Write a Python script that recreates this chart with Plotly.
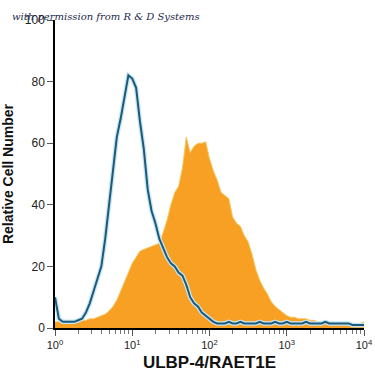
import plotly.graph_objects as go

# bin centres (log10 of fluorescence), 0.05-decade steps
log_bins = [round(i * 0.05, 2) for i in range(81)]

isotype = [10, 3, 2, 2, 2, 2, 2.5, 3, 5, 8,
           12, 16, 20, 29, 40, 52, 62, 68, 75, 82,
           81, 78, 67, 58, 45, 38, 34, 29, 26, 23,
           21, 20, 18, 17, 14, 10, 8, 7, 5, 4,
           3, 2, 1.5, 1.5, 1.5, 2, 1.5, 1.5, 2, 1.5,
           1.5, 1.5, 1.5, 2, 1.5, 1.5, 1.5, 2, 1.5, 1.5,
           2, 1.5, 1.5, 1.5, 1.5, 2, 1.5, 1.5, 1.5, 1.5,
           2, 1.5, 1.5, 1.5, 1.5, 1.5, 1.5, 1, 1, 1, 1]

ulbp4 = [2, 2, 2, 2, 2, 2, 2, 2.5, 2.5, 3,
         3, 3.5, 4, 4.5, 5.5, 7, 9, 12, 15, 18,
         21, 23, 25, 25.5, 26, 26.5, 27, 27.5, 31, 35,
         40, 44, 46, 52, 62, 57, 59, 60, 60, 60.5,
         55, 51, 48, 44, 43, 42, 36, 34, 33, 30,
         28, 24, 19, 15.5, 13, 11, 8.5, 7, 6, 5,
         4, 3.5, 3.5, 3, 3, 3, 2.5, 2.5, 2, 2,
         2, 1.5, 1.5, 1.5, 1.5, 1.5, 1.5, 1.5, 1.5, 1.5, 2]

x_vals = [10 ** v for v in log_bins]

x_tickvals = [1, 10, 100, 1000, 10000]
x_ticktext = ["10<sup>0</sup>", "10<sup>1</sup>", "10<sup>2</sup>", "10<sup>3</sup>", "10<sup>4</sup>"]
y_tickvals = [0, 20, 40, 60, 80, 100]

fig = go.Figure()
fig.add_trace(go.Scatter(
    x=x_vals, y=ulbp4, mode="lines", line=dict(color="#f5c860", width=1),
    fill="tozeroy", fillcolor="#f7a023", hoverinfo="skip", showlegend=False))
fig.add_trace(go.Scatter(
    x=x_vals, y=isotype, mode="lines", line=dict(color="#c5e6f7", width=4.5),
    hoverinfo="skip", showlegend=False))
fig.add_trace(go.Scatter(
    x=x_vals, y=isotype, mode="lines", line=dict(color="#1e5a78", width=2),
    hoverinfo="skip", showlegend=False))

fig.update_layout(
    width=375, height=375,
    margin=dict(l=55, r=11, t=20, b=47),
    paper_bgcolor="white", plot_bgcolor="white",
    font=dict(family="Liberation Sans, Arial, sans-serif", color="#222"),
    xaxis=dict(
        type="log", range=[0, 4], tickvals=x_tickvals, ticktext=x_ticktext,
        automargin=False,
        showgrid=False, zeroline=False, showline=True, linecolor="black", linewidth=2,
        ticks="outside", ticklen=6, tickcolor="#555",
        minor=dict(ticks="outside", ticklen=4, tickcolor="#777", dtick="D1", showgrid=False),
        tickfont=dict(size=11, color="#222"),
        title=dict(text="<b>ULBP-4/RAET1E</b>", font=dict(size=17, family="Liberation Sans Narrow, Liberation Sans, Arial", color="#111"), standoff=6),
    ),
    yaxis=dict(
        range=[0, 100], tickvals=y_tickvals, automargin=False,
        showgrid=False, zeroline=False, showline=True, linecolor="black", linewidth=1.5,
        ticks="outside", ticklen=6, tickcolor="#555",
        tickfont=dict(size=12, color="#222", family="Liberation Sans, Arial"),
        title=dict(text="<b>Relative Cell Number</b>", font=dict(size=14, family="Liberation Sans Narrow, Liberation Sans, Arial", color="#111"), standoff=14),
    ),
    annotations=[dict(
        text="<i>with permission from R &amp; D Systems</i>", x=-0.146, xref="paper", y=1.01, yref="paper",
        showarrow=False, xanchor="left", yanchor="middle",
        font=dict(family="DejaVu Serif, serif", size=10, color="#1a2a4a"))],
)

fig.write_html("out.html", config={"displayModeBar": False},
               post_script="document.body.style.margin='0';")
